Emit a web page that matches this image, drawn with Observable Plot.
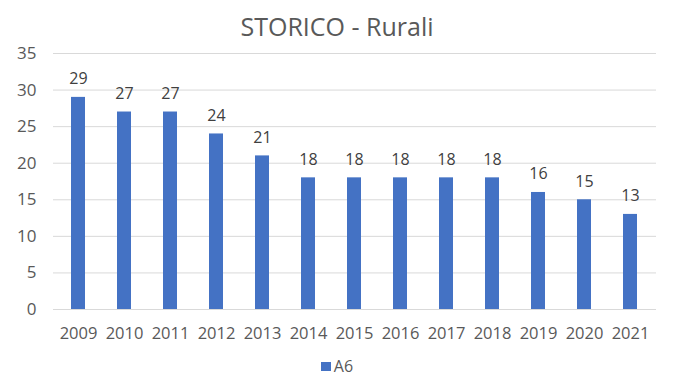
<!DOCTYPE html>
<html>
<head>
<meta charset="utf-8">
<script src="https://cdn.jsdelivr.net/npm/d3@7"></script>
<script src="https://cdn.jsdelivr.net/npm/@observablehq/plot@0.6"></script>
<style>
  html, body { margin: 0; padding: 0; background: #fff; }
  #wrap { position: relative; width: 674px; height: 378px; font-family: "Open Sans", sans-serif; color: #595959; overflow: hidden; }
  #title { position: absolute; left: 0; top: 11px; width: 674px; text-align: center; font-size: 25px; line-height: 30px; }
  #chart { position: absolute; left: 0; top: 40px; }
  #legend { position: absolute; left: 0; top: 355px; width: 674px; display: flex; justify-content: center; align-items: center; font-size: 16px; line-height: 22px; }
  #legend .sw { width: 10px; height: 9px; margin-right: 3px; }
</style>
</head>
<body>
<div id="wrap">
  <div id="title"></div>
  <div id="chart"></div>
  <div id="legend"></div>
</div>
<script>
const title = "STORICO - Rurali";
const seriesName = "A6";
const years = ["2009","2010","2011","2012","2013","2014","2015","2016","2017","2018","2019","2020","2021"];
const values = [29, 27, 27, 24, 21, 18, 18, 18, 18, 18, 16, 15, 13];
const yTicks = [0, 5, 10, 15, 20, 25, 30, 35];
const barColor = "#4472C4";

const data = years.map((y, i) => ({year: y, value: values[i]}));

document.getElementById("title").textContent = title;

const plot = Plot.plot({
  width: 674,
  height: 312,
  marginTop: 13,
  marginBottom: 43,
  marginLeft: 53,
  marginRight: 18,
  style: {fontFamily: "Open Sans, sans-serif", fontSize: "16px", color: "#595959", background: "transparent"},
  x: {domain: years, paddingInner: 0.69, paddingOuter: 0.345, label: null},
  y: {domain: [0, 35], label: null},
  marks: [
    Plot.ruleY(yTicks, {stroke: "#d9d9d9", strokeWidth: 1}),
    Plot.barY(data, {x: "year", y: "value", fill: barColor}),
    Plot.text(data, {x: "year", y: "value", text: d => String(d.value), dy: -13, lineAnchor: "bottom", fill: "#404040", fontSize: 16}),
    Plot.axisY({ticks: yTicks, tickSize: 0, tickPadding: 17, fontSize: 17, fill: "#595959", label: null}),
    Plot.axisX({tickSize: 0, tickPadding: 18, fontSize: 16.5, fill: "#595959", label: null})
  ]
});
document.getElementById("chart").appendChild(plot);

const legend = document.getElementById("legend");
const sw = document.createElement("span");
sw.className = "sw";
sw.style.background = barColor;
sw.style.display = "inline-block";
legend.appendChild(sw);
const lt = document.createElement("span");
lt.textContent = seriesName;
legend.appendChild(lt);
</script>
</body>
</html>
